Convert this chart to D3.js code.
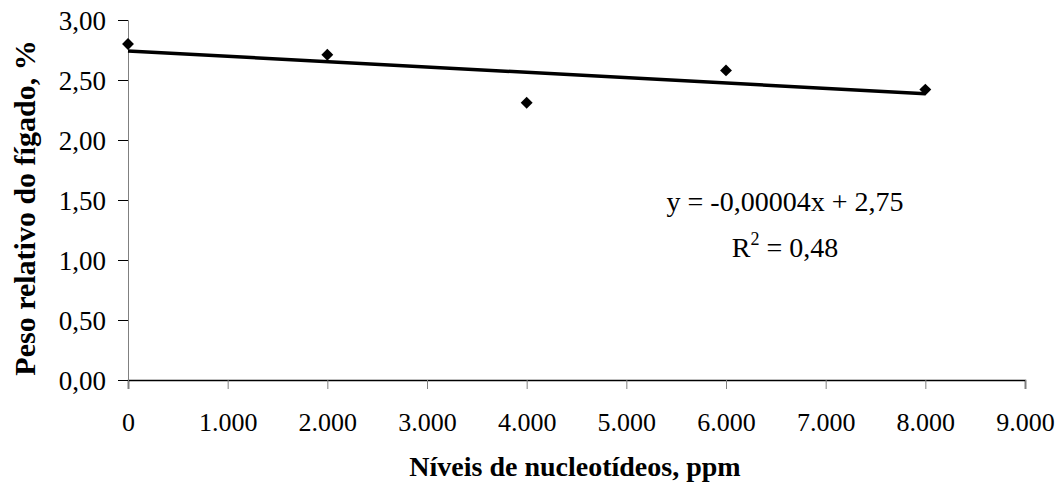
<!DOCTYPE html>
<html>
<head>
<meta charset="utf-8">
<script src="https://cdn.jsdelivr.net/npm/d3@7"></script>
<style>
  body { margin: 0; background: #fff; }
  text { font-family: "Liberation Serif", "Times New Roman", serif; fill: #000; }
</style>
</head>
<body>
<div id="chart"></div>
<script>
// data
var niveis = [0, 2000, 4000, 6000, 8000];
var peso = [2.80, 2.71, 2.31, 2.58, 2.42];
var xTicks = [0, 1000, 2000, 3000, 4000, 5000, 6000, 7000, 8000, 9000];
var yTicks = [0, 0.5, 1, 1.5, 2, 2.5, 3];
var equacao = ["y = -0,00004x + 2,75", "R", "2", " = 0,48"];

var margin = {top: 20, right: 39, bottom: 116, left: 128},
    width = 1064 - margin.left - margin.right,
    height = 496 - margin.top - margin.bottom;

var svg = d3.select("#chart")
  .append("svg")
    .attr("width", 1064)
    .attr("height", 496)
  .append("g")
    .attr("transform", "translate(" + margin.left + "," + margin.top + ")");

var x = d3.scaleLinear().domain([0, 9000]).range([0, width]);
var y = d3.scaleLinear().domain([0, 3]).range([height, 0]);

// dots for thousands, comma for decimals
var pt = d3.formatLocale({decimal: ",", thousands: ".", grouping: [3], currency: ["", ""]});

// X axis
var xAxis = svg.append("g")
  .attr("transform", "translate(0," + height + ")")
  .attr("font-family", null)
  .call(d3.axisBottom(x).tickValues(xTicks).tickSize(9).tickPadding(24).tickFormat(pt.format(",")));
xAxis.attr("font-family", null);
xAxis.select(".domain").attr("stroke", "#000").attr("stroke-width", 1.5);
xAxis.selectAll(".tick line").attr("stroke", "#808080");
xAxis.selectAll("text").style("font-size", "26px");

// Y axis
var yAxis = svg.append("g")
  .call(d3.axisLeft(y).tickValues(yTicks).tickSize(10).tickPadding(12).tickFormat(pt.format(".2f")));
yAxis.attr("font-family", null);
yAxis.select(".domain").attr("stroke", "#808080");
yAxis.selectAll(".tick line").attr("stroke", "#000");
yAxis.selectAll("text").style("font-size", "27px").attr("dy", "0.34em");

// least squares trend line
var mx = d3.mean(niveis), my = d3.mean(peso);
var sxy = d3.sum(niveis, function(d, i) { return (d - mx) * (peso[i] - my); });
var sxx = d3.sum(niveis, function(d) { return (d - mx) * (d - mx); });
var b = sxy / sxx, a = my - b * mx;
svg.append("path")
  .datum([0, 8000])
  .attr("fill", "none")
  .attr("stroke", "#000")
  .attr("stroke-width", 3.5)
  .attr("d", d3.line().x(function(d) { return x(d); }).y(function(d) { return y(a + b * d); }));

// points
svg.selectAll(".pt")
  .data(niveis)
  .enter()
  .append("path")
    .attr("class", "pt")
    .attr("transform", function(d, i) { return "translate(" + x(d) + "," + y(peso[i]) + ")"; })
    .attr("d", d3.symbol().type(d3.symbolDiamond2).size(90))
    .attr("fill", "#000");

// equation
svg.append("text")
  .attr("x", 785 - margin.left)
  .attr("y", 211 - margin.top)
  .attr("text-anchor", "middle")
  .style("font-size", "28px")
  .text(equacao[0]);
var r2 = svg.append("text")
  .attr("x", 785 - margin.left)
  .attr("y", 257 - margin.top)
  .attr("text-anchor", "middle")
  .style("font-size", "28px");
r2.append("tspan").text(equacao[1]);
r2.append("tspan").attr("dy", -12).style("font-size", "18px").text(equacao[2]);
r2.append("tspan").attr("dy", 12).text(equacao[3]);

// X axis label
svg.append("text")
  .attr("text-anchor", "middle")
  .attr("x", 575 - margin.left)
  .attr("y", 476 - margin.top)
  .style("font-size", "28px")
  .style("font-weight", "bold")
  .text("Níveis de nucleotídeos, ppm");

// Y axis label
svg.append("text")
  .attr("text-anchor", "middle")
  .attr("transform", "rotate(-90)")
  .attr("x", -(208 - margin.top))
  .attr("y", 35 - margin.left)
  .style("font-size", "30px")
  .style("font-weight", "bold")
  .text("Peso  relativo do fígado, %");
</script>
</body>
</html>
